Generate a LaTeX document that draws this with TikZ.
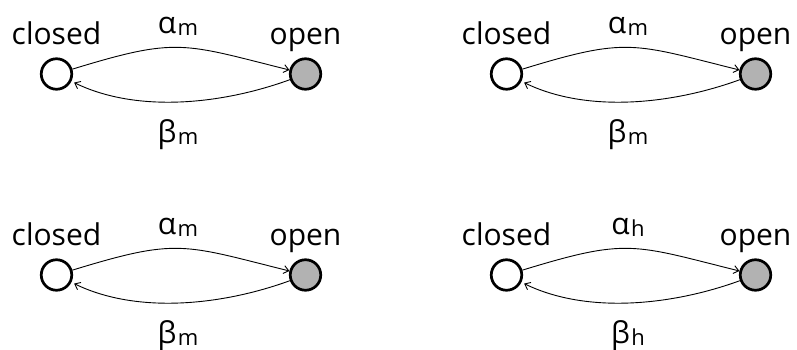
\documentclass[tikz,border=0pt]{standalone}
\usepackage{fontspec}
\setmainfont{Open Sans}
\usetikzlibrary{arrows.meta, calc}
\tikzset{
    channel/.style={circle, draw, line width=2.7pt, minimum size=30.5pt, inner sep=0pt},
    closed state/.style={channel, fill=white},
    open state/.style={channel, fill=black!30},
    word/.style={font=\fontsize{30}{32}\selectfont, inner sep=0pt, anchor=base},
    rate/.style={line width=0.9pt, -{Straight Barb[length=5pt,width=8pt]}},
}
\newcommand{\ratesub}[2]{#1\kern1.5pt\lower1.5pt\hbox{\fontsize{22}{22}\selectfont #2}}

\begin{document}
\begin{tikzpicture}[x=1pt,y=1pt]
\useasboundingbox (0,0) rectangle (797,350);
% top left
\node[closed state] (c1) at (56.5,276) {};
\node[open state] (o1) at (305.5,276) {};
\node[word] (lc1) at ([yshift=29pt]c1.center) {closed};
\node[word] (lo1) at ([yshift=29pt]o1.center) {open};
\draw[rate] (c1) to[out=17, in=166, looseness=1.3] (o1);
\draw[rate, shorten >=3pt] (o1) to[out=200, in=-26, looseness=0.85] (c1);
\node[word] (a1) at ([xshift=-3pt, yshift=40pt]$(c1)!0.5!(o1)$) {\ratesub{α}{m}};
\node[word] (b1) at ([xshift=-3pt, yshift=-69pt]$(c1)!0.5!(o1)$) {\ratesub{β}{m}};
% top right
\node[closed state] (c2) at (506.5,276) {};
\node[open state] (o2) at (755.5,276) {};
\node[word] (lc2) at ([yshift=29pt]c2.center) {closed};
\node[word] (lo2) at ([yshift=29pt]o2.center) {open};
\draw[rate] (c2) to[out=17, in=166, looseness=1.3] (o2);
\draw[rate, shorten >=3pt] (o2) to[out=200, in=-26, looseness=0.85] (c2);
\node[word] (a2) at ([xshift=-3pt, yshift=40pt]$(c2)!0.5!(o2)$) {\ratesub{α}{m}};
\node[word] (b2) at ([xshift=-3pt, yshift=-69pt]$(c2)!0.5!(o2)$) {\ratesub{β}{m}};
% bottom left
\node[closed state] (c3) at (56.5,75) {};
\node[open state] (o3) at (305.5,75) {};
\node[word] (lc3) at ([yshift=29pt]c3.center) {closed};
\node[word] (lo3) at ([yshift=29pt]o3.center) {open};
\draw[rate] (c3) to[out=17, in=166, looseness=1.3] (o3);
\draw[rate, shorten >=3pt] (o3) to[out=200, in=-26, looseness=0.85] (c3);
\node[word] (a3) at ([xshift=-3pt, yshift=40pt]$(c3)!0.5!(o3)$) {\ratesub{α}{m}};
\node[word] (b3) at ([xshift=-3pt, yshift=-69pt]$(c3)!0.5!(o3)$) {\ratesub{β}{m}};
% bottom right
\node[closed state] (c4) at (506.5,75) {};
\node[open state] (o4) at (755.5,75) {};
\node[word] (lc4) at ([yshift=29pt]c4.center) {closed};
\node[word] (lo4) at ([yshift=29pt]o4.center) {open};
\draw[rate] (c4) to[out=17, in=166, looseness=1.3] (o4);
\draw[rate, shorten >=3pt] (o4) to[out=200, in=-26, looseness=0.85] (c4);
\node[word] (a4) at ([xshift=-3pt, yshift=40pt]$(c4)!0.5!(o4)$) {\ratesub{α}{h}};
\node[word] (b4) at ([xshift=-3pt, yshift=-69pt]$(c4)!0.5!(o4)$) {\ratesub{β}{h}};
\end{tikzpicture}
\end{document}
